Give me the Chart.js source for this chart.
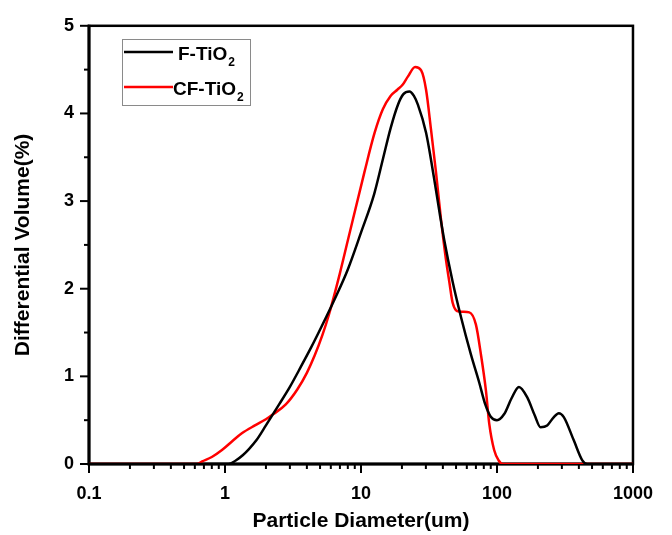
<!DOCTYPE html>
<html>
<head>
<meta charset="utf-8">
<script src="https://cdn.jsdelivr.net/npm/chart.js@4.4.1/dist/chart.umd.min.js"></script>
<style>
  html, body { margin: 0; padding: 0; background: #fff; }
  #wrap { width: 672px; height: 535px; }
</style>
</head>
<body>
<div id="wrap"><canvas id="c" width="672" height="535"></canvas></div>
<script>
// ---- Data ----
const xTickLabels = [0.1, 1, 10, 100, 1000];
const yTickLabels = [0, 1, 2, 3, 4, 5];

const fDiam = [0.1, 0.5, 1.0, 1.06, 1.2, 1.35, 1.5, 1.7, 2.0, 2.5, 3.0, 3.5, 4.3, 5.1, 6.4, 8.0, 10, 12.5, 14.5, 16.5, 18.7, 20.5, 22.7, 24.5, 26.2, 30.1, 34.3, 38, 41, 47.2, 54.3, 64.3, 74, 82, 90, 100, 113, 128, 145, 167, 190, 209, 234, 260, 285, 310, 367, 423, 460, 600, 1000];
const fVol  = [0, 0, 0, 0, 0.04, 0.10, 0.17, 0.27, 0.44, 0.68, 0.88, 1.07, 1.33, 1.56, 1.88, 2.22, 2.64, 3.08, 3.48, 3.83, 4.10, 4.22, 4.25, 4.20, 4.10, 3.78, 3.28, 2.85, 2.55, 2.08, 1.68, 1.25, 0.93, 0.68, 0.54, 0.50, 0.57, 0.75, 0.88, 0.76, 0.55, 0.42, 0.44, 0.53, 0.58, 0.535, 0.27, 0.045, 0, 0, 0];

const cfDiam = [0.1, 0.5, 0.62, 0.68, 0.8, 0.95, 1.13, 1.33, 1.66, 2.0, 2.27, 2.8, 3.4, 4.0, 4.57, 5.2, 5.8, 6.98, 8.0, 10.6, 12.6, 14.5, 16.5, 18.5, 20.3, 22.1, 25, 27.7, 30.1, 32.7, 35.6, 38.7, 42, 44.6, 47.2, 52.9, 62.6, 70, 76.2, 82.9, 87.7, 95.3, 103, 110, 200, 1000];
const cfVol  = [0, 0, 0, 0.03, 0.08, 0.16, 0.26, 0.35, 0.44, 0.51, 0.57, 0.68, 0.85, 1.04, 1.24, 1.47, 1.70, 2.17, 2.55, 3.33, 3.78, 4.05, 4.20, 4.27, 4.33, 4.42, 4.53, 4.49, 4.27, 3.82, 3.33, 2.80, 2.35, 2.08, 1.84, 1.74, 1.73, 1.59, 1.25, 0.84, 0.46, 0.16, 0.04, 0, 0, 0];

const seriesNames = ['F-TiO', 'CF-TiO'];
const seriesSub = ['2', '2'];
const seriesColors = ['#000000', '#ff0000'];

const toPts = (xs, ys) => xs.map((v, i) => ({ x: v, y: ys[i] }));

const FONT = 'Liberation Sans, Arial, sans-serif';

const frameTicks = {
  id: 'frameTicks',
  beforeDatasetsDraw(chart) {
    const { ctx, chartArea: a, scales: { x, y } } = chart;
    ctx.save();
    ctx.strokeStyle = '#000';
    ctx.lineWidth = 2.5;
    ctx.strokeRect(a.left, a.top, a.right - a.left, a.bottom - a.top);
    ctx.lineWidth = 3;
    ctx.beginPath();
    ctx.moveTo(a.left, a.top - 1);
    ctx.lineTo(a.left, a.bottom);
    ctx.lineTo(a.right + 1, a.bottom);
    ctx.stroke();
    ctx.lineWidth = 2;
    const seg = (x1, y1, x2, y2) => { ctx.beginPath(); ctx.moveTo(x1, y1); ctx.lineTo(x2, y2); ctx.stroke(); };
    xTickLabels.forEach(v => { const px = x.getPixelForValue(v); seg(px, a.bottom, px, a.bottom + 9); });
    for (let i = 0; i < xTickLabels.length - 1; i++) {
      for (let k = 2; k <= 9; k++) {
        const px = x.getPixelForValue(xTickLabels[i] * k);
        seg(px, a.bottom, px, a.bottom + 5);
      }
    }
    yTickLabels.forEach((v, i) => {
      const py = y.getPixelForValue(v);
      seg(a.left, py, a.left - 9, py);
      if (i < yTickLabels.length - 1) {
        const pm = y.getPixelForValue(v + 0.5);
        seg(a.left, pm, a.left - 5, pm);
      }
    });
    ctx.restore();
  },
  afterDraw(chart) {
    const { ctx } = chart;
    ctx.save();
    // legend box
    ctx.strokeStyle = '#8a8a8a';
    ctx.lineWidth = 1;
    ctx.strokeRect(122.5, 39.5, 128, 66);
    const rows = [52, 87];
    rows.forEach((ry, i) => {
      ctx.strokeStyle = seriesColors[i];
      ctx.lineWidth = 2.5;
      ctx.beginPath();
      ctx.moveTo(124, ry);
      ctx.lineTo(173, ry);
      ctx.stroke();
      ctx.fillStyle = '#000';
      ctx.font = 'bold 19px ' + FONT;
      ctx.textBaseline = 'middle';
      ctx.textAlign = 'left';
      const tx = i === 0 ? 178 : 173;
      ctx.fillText(seriesNames[i], tx, ry + 3);
      const w = ctx.measureText(seriesNames[i]).width;
      ctx.font = 'bold 12px ' + FONT;
      ctx.fillText(seriesSub[i], tx + w + 1, ry + 11);
    });
    ctx.restore();
  }
};

new Chart(document.getElementById('c'), {
  type: 'line',
  data: {
    datasets: [
      { label: 'F-TiO2', data: toPts(fDiam, fVol), borderColor: seriesColors[0], borderWidth: 2.5, pointRadius: 0, cubicInterpolationMode: 'monotone', fill: false },
      { label: 'CF-TiO2', data: toPts(cfDiam, cfVol), borderColor: seriesColors[1], borderWidth: 2.5, pointRadius: 0, cubicInterpolationMode: 'monotone', fill: false }
    ]
  },
  options: {
    responsive: false,
    animation: false,
    devicePixelRatio: 1,
    layout: { padding: { left: 0, right: 36, top: 22, bottom: 0 } },
    plugins: { legend: { display: false }, tooltip: { enabled: false } },
    scales: {
      x: {
        type: 'logarithmic',
        min: 0.1, max: 1000,
        afterFit(s) { s.height = 71; },
        afterBuildTicks(s) { s.ticks = xTickLabels.map(v => ({ value: v })); },
        grid: { display: false, drawTicks: false },
        border: { display: false },
        ticks: {
          color: '#000', padding: 19, maxRotation: 0, autoSkip: false,
          font: { family: FONT, size: 18, weight: 'bold' },
          callback: v => String(v)
        },
        title: { display: true, text: 'Particle Diameter(um)', color: '#000', padding: { top: 0, bottom: 1 }, font: { family: FONT, size: 21, weight: 'bold', lineHeight: 1.2 } }
      },
      y: {
        min: 0, max: 5,
        afterFit(s) { s.width = 89; },
        afterBuildTicks(s) { s.ticks = yTickLabels.map(v => ({ value: v })); },
        grid: { display: false, drawTicks: false },
        border: { display: false },
        ticks: { color: '#000', padding: 15, font: { family: FONT, size: 18, weight: 'bold' } },
        title: { display: true, text: 'Differential Volume(%)', color: '#000', padding: { top: 11, bottom: 0 }, font: { family: FONT, size: 21, weight: 'bold', lineHeight: 1.2 } }
      }
    }
  },
  plugins: [frameTicks]
});
</script>
</body>
</html>
